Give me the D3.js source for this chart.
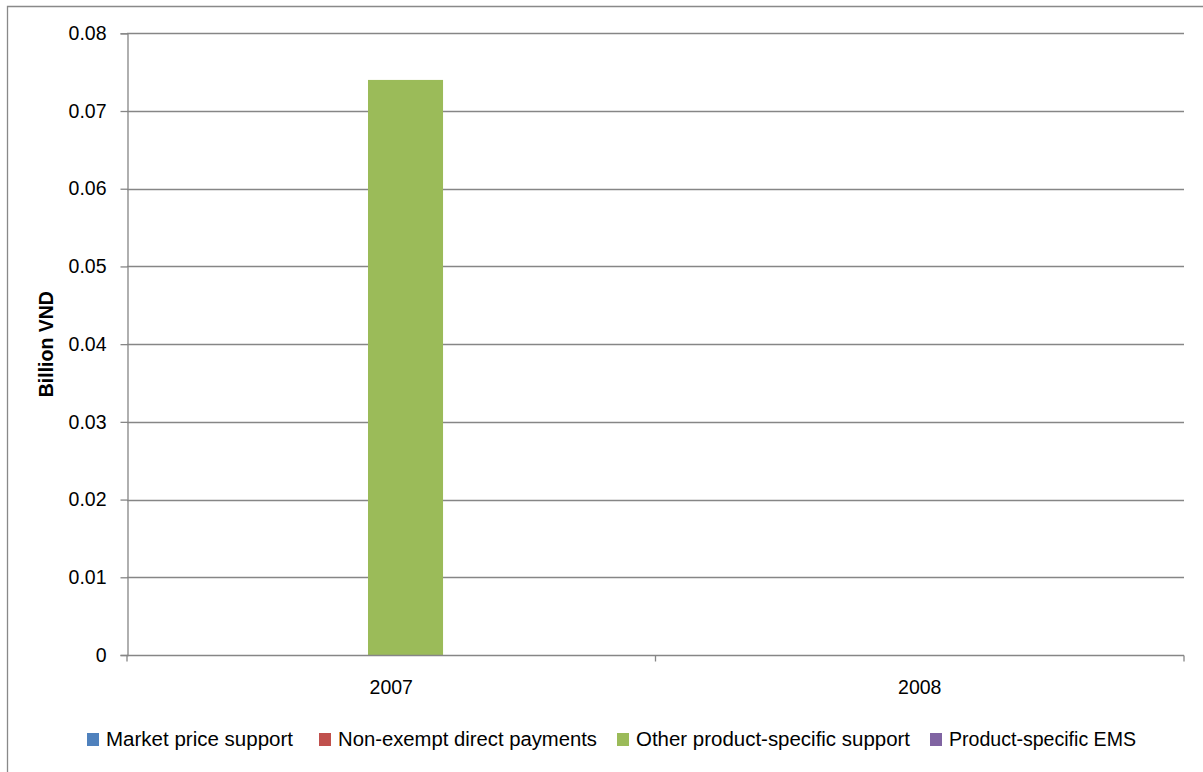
<!DOCTYPE html>
<html>
<head>
<meta charset="utf-8">
<script src="https://cdn.jsdelivr.net/npm/d3@7"></script>
<style>
  html, body { margin: 0; padding: 0; background: #fff; }
  svg { display: block; }
  text { font-family: "Liberation Sans", Arial, sans-serif; fill: #000; }
</style>
</head>
<body>
<svg id="chart" width="1203" height="772"></svg>
<script>
const categories = ["2007", "2008"];
const seriesNames = ["Market price support", "Non-exempt direct payments", "Other product-specific support", "Product-specific EMS"];
const marketPriceSupport = [0, 0];
const nonExemptDirectPayments = [0, 0];
const otherProductSpecificSupport = [0.074, 0];
const productSpecificEMS = [0, 0];
const seriesColors = ["#4F81BD", "#C0504D", "#9BBB59", "#8064A2"];
const yTicks = [0, 0.01, 0.02, 0.03, 0.04, 0.05, 0.06, 0.07, 0.08];
const yTitle = "Billion VND";

const seriesValues = [marketPriceSupport, nonExemptDirectPayments, otherProductSpecificSupport, productSpecificEMS];

(function () {
const svg = d3.select("#chart");
const W = 1203, H = 772;
const mLeft = 127, mRight = 1184, mTop = 33.3, mBottom = 655;
const gridColor = "#868686";
const fs = 19.5;

// outer frame
svg.append("path")
  .attr("d", `M7.5,${H + 2} V6.5 H${W + 2}`)
  .attr("fill", "none").attr("stroke", "#898989").attr("stroke-width", 1.3);

const x0 = d3.scaleBand().domain(categories).range([mLeft, mRight]).paddingInner(0).paddingOuter(0);
const bw = x0.bandwidth();
const x1 = d3.scaleBand().domain(seriesNames).range([bw * 0.172, bw * 0.74]).padding(0);
const y = d3.scaleLinear().domain([0, 0.08]).range([mBottom, mTop]);

// gridlines
svg.append("g").selectAll("line").data(yTicks.filter(d => d > 0)).join("line")
  .attr("x1", mLeft).attr("x2", mRight)
  .attr("y1", d => Math.round(y(d)) + 0.5).attr("y2", d => Math.round(y(d)) + 0.5)
  .attr("stroke", gridColor).attr("stroke-width", 1.3);

// bars
const groups = svg.append("g").selectAll("g").data(categories).join("g")
  .attr("transform", c => `translate(${x0(c)},0)`);
groups.selectAll("rect")
  .data((c, ci) => seriesNames.map((s, si) => ({ s, si, v: seriesValues[si][ci] })))
  .join("rect")
  .attr("x", d => x1(d.s))
  .attr("width", x1.bandwidth())
  .attr("y", d => y(d.v))
  .attr("height", d => y(0) - y(d.v))
  .attr("fill", d => seriesColors[d.si]);

// y axis
const yAxis = d3.axisLeft(y).tickValues(yTicks).tickSize(7).tickPadding(14)
  .tickFormat(d => d === 0 ? "0" : d3.format(".2f")(d));
const yg = svg.append("g").attr("transform", `translate(${mLeft + 0.5},0)`).call(yAxis);
yg.select(".domain").attr("stroke", gridColor).attr("stroke-width", 1.3);
yg.selectAll(".tick line").attr("stroke", gridColor).attr("stroke-width", 1.3);
yg.selectAll(".tick text").attr("font-size", fs).attr("font-family", "Liberation Sans, Arial, sans-serif").attr("fill", "#000");

// x axis
const xg = svg.append("g").attr("transform", `translate(0,${Math.round(mBottom) + 0.5})`);
xg.append("line").attr("x1", mLeft).attr("x2", mRight).attr("stroke", gridColor).attr("stroke-width", 1.3);
const xTickPos = categories.map(c => x0(c)).concat([x0(categories[categories.length - 1]) + bw]);
xg.selectAll("line.tk").data(xTickPos).join("line").attr("class", "tk")
  .attr("x1", d => d).attr("x2", d => d).attr("y1", 0).attr("y2", 6)
  .attr("stroke", gridColor).attr("stroke-width", 1.3);
xg.selectAll("text").data(categories).join("text")
  .attr("x", c => x0(c) + bw / 2).attr("y", 38)
  .attr("text-anchor", "middle").attr("font-size", fs).text(c => c);

// y title
svg.append("text")
  .attr("transform", `translate(53,${(mTop + mBottom) / 2}) rotate(-90)`)
  .attr("text-anchor", "middle").attr("font-size", 19.5).attr("font-weight", "bold")
  .text(yTitle);

// legend
const legendX = [87, 319, 617, 930];
const lg = svg.append("g").selectAll("g").data(seriesNames).join("g")
  .attr("transform", (d, i) => `translate(${legendX[i]},0)`);
lg.append("rect").attr("x", 0).attr("y", 733).attr("width", 12).attr("height", 13)
  .attr("fill", (d, i) => seriesColors[i]);
lg.append("text").attr("x", 19).attr("y", 746).attr("font-size", fs)
  .attr("textLength", (d, i) => [187, 259, 274, 187][i]).attr("lengthAdjust", "spacingAndGlyphs")
  .text(d => d);
})();
</script>
</body>
</html>
